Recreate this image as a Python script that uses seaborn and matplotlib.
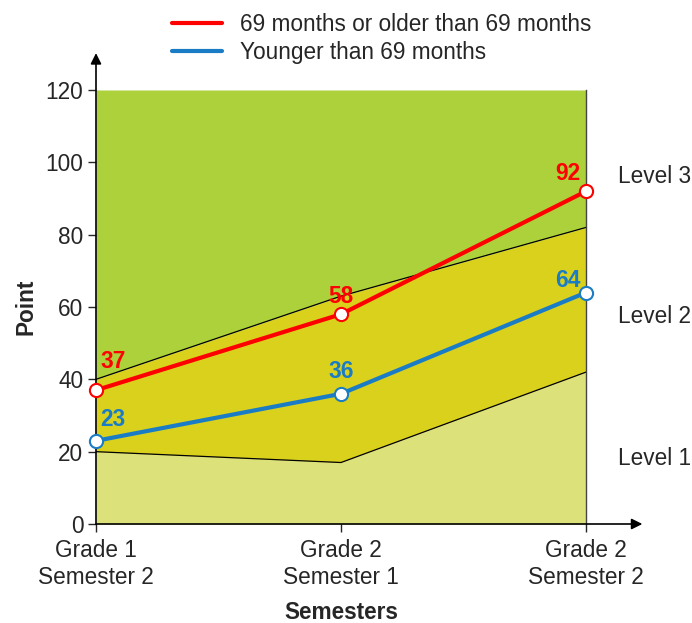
import matplotlib
matplotlib.use("Agg")
import matplotlib.pyplot as plt
import seaborn as sns
import pandas as pd
from matplotlib.lines import Line2D

sns.set_theme(style="white")
plt.rcParams["font.family"] = ["Liberation Sans", "DejaVu Sans"]

# Data
semesters = ["Grade 1\nSemester 2", "Grade 2\nSemester 1", "Grade 2\nSemester 2"]
older = [37, 58, 92]
younger = [23, 36, 64]
level1_top = [20, 17, 42]
level2_top = [40, 63, 82]
y_max = 120
level_names = ["Level 1", "Level 2", "Level 3"]
level_label_y = [18, 57.5, 96]
series_names = ["69 months or older than 69 months", "Younger than 69 months"]

red = "#ff0000"
blue = "#1b7cc6"
c_l1 = "#dde17a"
c_l2 = "#d9d11c"
c_l3 = "#acd13a"
FS = 16.3

xs = list(range(len(semesters)))
df = pd.DataFrame({
    "x": xs * 2,
    "value": older + younger,
    "group": [series_names[0]] * 3 + [series_names[1]] * 3,
})

fig = plt.figure(figsize=(6.92, 6.23), dpi=100)
ax = fig.add_axes([96 / 692, 99 / 623, 490 / 692, 434 / 623])

# Level bands
ax.fill_between(xs, 0, level1_top, color=c_l1, lw=0, zorder=0)
ax.fill_between(xs, level1_top, level2_top, color=c_l2, lw=0, zorder=0)
ax.fill_between(xs, level2_top, [y_max] * 3, color=c_l3, lw=0, zorder=0)
ax.plot(xs, level1_top, color="black", lw=0.9, zorder=1)
ax.plot(xs, level2_top, color="black", lw=0.9, zorder=1)

sns.lineplot(data=df, x="x", y="value", hue="group",
             palette=[red, blue], linewidth=3, ax=ax, legend=False, zorder=3)
for vals, col in [(older, red), (younger, blue)]:
    ax.scatter(xs, vals, s=90, facecolor="white", edgecolor=col,
               linewidth=1.5, zorder=4, clip_on=False)

# Value labels (offsets in pixels from the marker centre)
label_offsets = {
    "older": [(17, 29), (0, 18), (-18, 18)],
    "younger": [(17, 21), (0, 22), (-18, 12)],
}
for key, vals, col in [("older", older, red), ("younger", younger, blue)]:
    for i, v in enumerate(vals):
        dx, dy = label_offsets[key][i]
        ax.annotate(f"{v}", (xs[i], v), xytext=(dx * 0.72, dy * 0.72),
                    textcoords="offset points", ha="center", va="center",
                    color=col, fontsize=FS, fontweight="bold", zorder=5)

ax.set_xlim(0, 2)
ax.set_ylim(0, y_max)
ax.set_xticks(xs)
ax.set_xticklabels(semesters, fontsize=FS, linespacing=1.2)
ax.set_yticks(range(0, 121, 20))
ax.tick_params(axis="y", labelsize=FS, length=6, width=1, direction="out", left=True, pad=3)
ax.tick_params(axis="x", length=6, width=1, direction="out", bottom=True, pad=5)
ax.set_xlabel("Semesters", fontsize=FS, fontweight="bold", labelpad=9)
ax.set_ylabel("Point", fontsize=FS, fontweight="bold", labelpad=6)

ax.spines["top"].set_visible(False)
ax.spines["right"].set_color("#444444")
ax.spines["right"].set_linewidth(1)
for s in ["left", "bottom"]:
    ax.spines[s].set_visible(False)

# Arrow-headed axes
ax.annotate("", xy=(0, 1.085), xytext=(0, 0), xycoords="axes fraction",
            arrowprops=dict(arrowstyle="-|>", color="black", lw=1.2, mutation_scale=16,
                            shrinkA=0, shrinkB=0), annotation_clip=False)
ax.annotate("", xy=(1.115, 0), xytext=(0, 0), xycoords="axes fraction",
            arrowprops=dict(arrowstyle="-|>", color="black", lw=1.2, mutation_scale=16,
                            shrinkA=0, shrinkB=0), annotation_clip=False)

# Level names on the right
for name, yv in zip(level_names, level_label_y):
    ax.text(2.13, yv, name, fontsize=FS, va="center", ha="left", clip_on=False)

# Legend
handles = [Line2D([], [], color=red, lw=3), Line2D([], [], color=blue, lw=3)]
fig.legend(handles, series_names, loc="upper left", bbox_to_anchor=(172 / 692, 1 - 13 / 623),
           frameon=False, fontsize=FS, handlelength=2.2, handletextpad=0.8,
           labelspacing=0.22, borderpad=0, borderaxespad=0)

fig.savefig("out.png", dpi=100)
